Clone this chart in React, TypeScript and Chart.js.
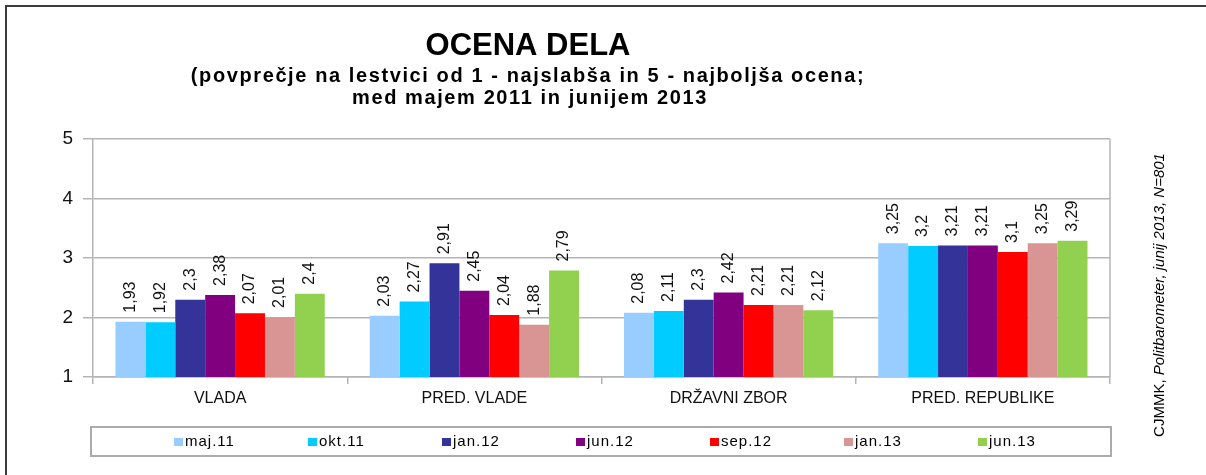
import React, { useEffect, useRef } from "react";
import { Chart, registerables } from "chart.js";

Chart.register(...registerables);

const categories = ["VLADA", "PRED. VLADE", "DRŽAVNI ZBOR", "PRED. REPUBLIKE"];
const seriesLabels = ["maj.11", "okt.11", "jan.12", "jun.12", "sep.12", "jan.13", "jun.13"];
const maj11 = [1.93, 2.03, 2.08, 3.25];
const okt11 = [1.92, 2.27, 2.11, 3.2];
const jan12 = [2.3, 2.91, 2.3, 3.21];
const jun12 = [2.38, 2.45, 2.42, 3.21];
const sep12 = [2.07, 2.04, 2.21, 3.1];
const jan13 = [2.01, 1.88, 2.21, 3.25];
const jun13 = [2.4, 2.79, 2.12, 3.29];
const seriesValues = [maj11, okt11, jan12, jun12, sep12, jan13, jun13];
const seriesColors = ["#99CCFF", "#00CCFF", "#333399", "#800080", "#FF0000", "#D99594", "#92D050"];
const yMin = 1;
const yMax = 5;
const titleText = "OCENA DELA";
const subtitleLines = [
  "(povprečje na lestvici od 1 - najslabša in 5 - najboljša ocena;",
  "med majem 2011 in junijem 2013",
];
const sourcePlain = "CJMMK, ";
const sourceItalic = "Politbarometer, junij 2013, N=801";

const FONT = '"Liberation Sans", Arial, sans-serif';
const GRID = "#b4b4b4";

const decorPlugin = {
  id: "decor",
  beforeDraw(chart: any) {
    const ctx = chart.ctx;
    ctx.save();
    ctx.fillStyle = "#ffffff";
    ctx.fillRect(0, 0, chart.width, chart.height);
    ctx.restore();
  },
  afterDraw(chart: any) {
    const ctx = chart.ctx;
    const area = chart.chartArea;
    ctx.save();
    // outer frame
    ctx.strokeStyle = "#3c3c3c";
    ctx.lineWidth = 2;
    ctx.beginPath();
    ctx.moveTo(6, chart.height);
    ctx.lineTo(6, 6);
    ctx.lineTo(chart.width, 6);
    ctx.stroke();

    // right border of plot
    ctx.strokeStyle = GRID;
    ctx.lineWidth = 1.5;
    ctx.beginPath();
    ctx.moveTo(area.right, area.top);
    ctx.lineTo(area.right, area.bottom);
    ctx.stroke();

    // titles
    const cx = 528;
    ctx.fillStyle = "#000";
    ctx.textAlign = "center";
    ctx.textBaseline = "middle";
    ctx.font = `bold 31px ${FONT}`;
    (ctx as any).letterSpacing = "0px";
    ctx.fillText(titleText, cx, 46);
    ctx.font = `bold 20px ${FONT}`;
    (ctx as any).letterSpacing = "1.6px";
    ctx.fillText(subtitleLines[0], cx, 76);
    ctx.fillText(subtitleLines[1], cx + 2, 98);

    // legend box
    (ctx as any).letterSpacing = "1px";
    ctx.strokeStyle = "#ababab";
    ctx.lineWidth = 2;
    ctx.strokeRect(area.left - 2, 427, area.right - area.left + 3, 29);
    ctx.font = `15px ${FONT}`;
    ctx.textAlign = "left";
    ctx.textBaseline = "middle";
    const legendStart = 174;
    const legendStep = 134;
    seriesLabels.forEach((lab, i) => {
      const x = legendStart + i * legendStep;
      ctx.fillStyle = seriesColors[i];
      ctx.fillRect(x, 438, 9, 8);
      ctx.fillStyle = "#000";
      ctx.fillText(lab, x + 11, 442);
    });

    // side source text
    (ctx as any).letterSpacing = "0px";
    ctx.translate(1160, 295);
    ctx.rotate(-Math.PI / 2);
    ctx.font = `15px ${FONT}`;
    const w1 = ctx.measureText(sourcePlain).width;
    ctx.font = `italic 15px ${FONT}`;
    const w2 = ctx.measureText(sourceItalic).width;
    const start = -(w1 + w2) / 2;
    ctx.textAlign = "left";
    ctx.fillStyle = "#000";
    ctx.font = `15px ${FONT}`;
    ctx.fillText(sourcePlain, start, 0);
    ctx.font = `italic 15px ${FONT}`;
    ctx.fillText(sourceItalic, start + w1, 0);
    ctx.restore();
  },
  afterDatasetsDraw(chart: any) {
    const ctx = chart.ctx;
    ctx.save();
    ctx.font = `16px ${FONT}`;
    ctx.fillStyle = "#111";
    ctx.textAlign = "left";
    ctx.textBaseline = "middle";
    chart.data.datasets.forEach((ds: any, i: number) => {
      const meta = chart.getDatasetMeta(i);
      meta.data.forEach((bar: any, j: number) => {
        const v = ds.data[j];
        const txt = String(v).replace(".", ",");
        ctx.save();
        ctx.translate(bar.x, bar.y - 9);
        ctx.rotate(-Math.PI / 2);
        ctx.fillText(txt, 0, 0);
        ctx.restore();
      });
    });
    ctx.restore();
  },
};

export default function App() {
  const ref = useRef<HTMLCanvasElement | null>(null);
  useEffect(() => {
    if (!ref.current) return;
    const chart = new Chart(ref.current, {
      type: "bar",
      data: {
        labels: categories,
        datasets: seriesLabels.map((lab, i) => ({
          label: lab,
          data: seriesValues[i],
          backgroundColor: seriesColors[i],
          borderWidth: 0,
          categoryPercentage: 0.823,
          barPercentage: 1.0,
        })),
      },
      options: {
        responsive: false,
        animation: false,
        layout: { padding: { left: 53, right: 96, top: 139, bottom: 68 } },
        plugins: {
          legend: { display: false },
          title: { display: false },
          tooltip: { enabled: false },
        },
        scales: {
          x: {
            type: "category",
            offset: true,
            grid: {
              offset: true,
              drawOnChartArea: false,
              drawTicks: true,
              tickLength: 7,
              color: GRID,
              lineWidth: 1.5,
            },
            border: { display: true, color: GRID, width: 1.5 },
            ticks: {
              color: "#111",
              font: { family: FONT, size: 16 },
              padding: 5,
              maxRotation: 0,
              autoSkip: false,
            },
            afterFit: (s: any) => {
              s.height = 30;
            },
          },
          y: {
            min: yMin,
            max: yMax,
            grid: {
              color: GRID,
              lineWidth: 1.5,
              tickLength: 10,
              drawTicks: true,
            },
            border: { display: true, color: GRID, width: 1.5 },
            ticks: {
              stepSize: 1,
              color: "#111",
              font: { family: FONT, size: 19 },
              padding: 10,
            },
            afterFit: (s: any) => {
              s.width = 40;
            },
          },
        },
      },
      plugins: [decorPlugin],
    });
    return () => chart.destroy();
  }, []);
  return (
    <div style={{ position: "fixed", left: 0, top: 0, width: 1206, height: 475, background: "#fff" }}>
      <canvas ref={ref} width={1206} height={475} style={{ display: "block" }} />
    </div>
  );
}
